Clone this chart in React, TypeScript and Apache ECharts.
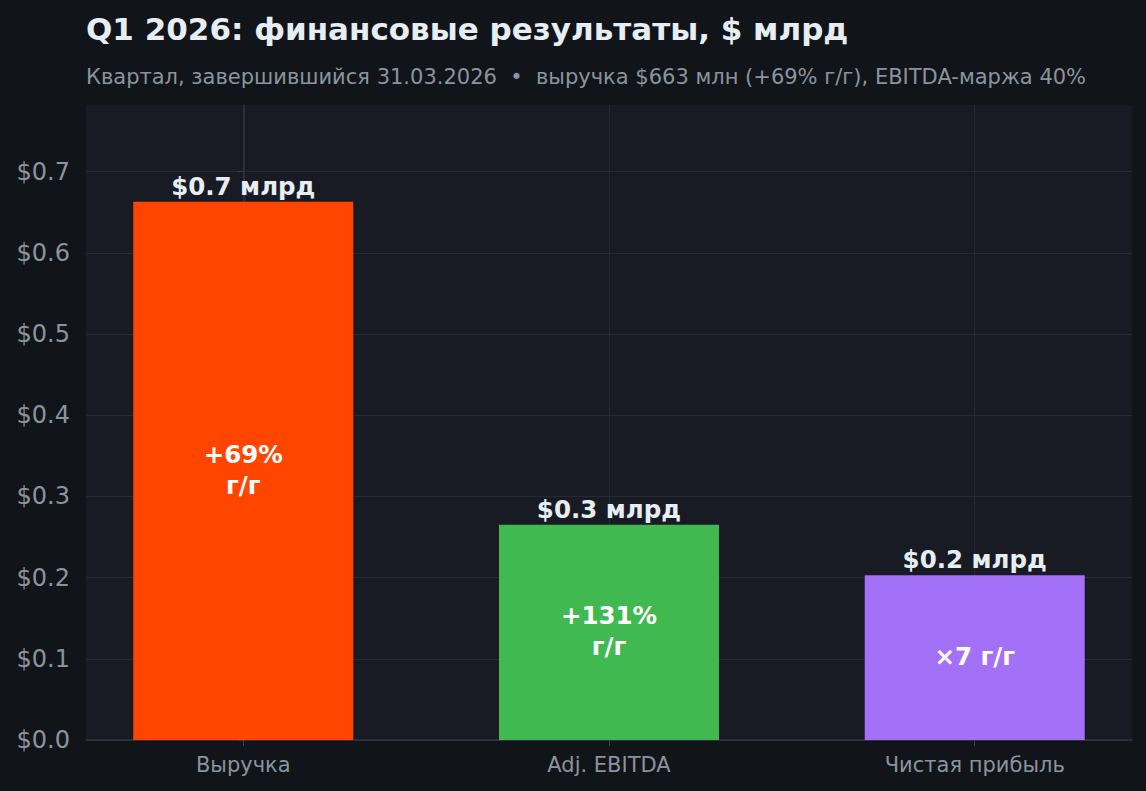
import React, { useEffect, useRef } from "react";
import * as echarts from "echarts";

// chart data
const categories = ["Выручка", "Adj. EBITDA", "Чистая прибыль"];
const values = [0.663, 0.265, 0.203]; // $ bn
const growthLabels = ["+69%\nг/г", "+131%\nг/г", "×7 г/г"];
const barColors = ["#ff4500", "#3fb950", "#a371f7"];
const yTicks = [0, 0.1, 0.2, 0.3, 0.4, 0.5, 0.6, 0.7];

const FONT = "DejaVu Sans";
const GRID_COLOR = "#242932";

const App: React.FC = () => {
  const chartRef = useRef<HTMLDivElement>(null);

  useEffect(() => {
    if (!chartRef.current) return;
    const chart = echarts.init(chartRef.current, undefined, { renderer: "svg" });

    const xIdx = categories.map((_, i) => i);

    const option: echarts.EChartsOption = {
      animation: false,
      backgroundColor: "#111419",
      textStyle: { fontFamily: FONT },
      title: [
        {
          text: "Q1 2026: финансовые результаты, $ млрд",
          left: 81,
          top: 8,
          textStyle: { color: "#e6edf3", fontSize: 31, fontWeight: "bold", fontFamily: FONT },
        },
        {
          text: "Квартал, завершившийся 31.03.2026  •  выручка $663 млн (+69% г/г), EBITDA-маржа 40%",
          left: 81,
          top: 61,
          textStyle: { color: "#8b949e", fontSize: 21, fontWeight: "normal", fontFamily: FONT },
        },
      ],
      grid: {
        left: 86,
        right: 14,
        top: 105,
        bottom: 51,
        show: true,
        backgroundColor: "#181b23",
        borderWidth: 0,
      },
      xAxis: {
        type: "value",
        min: -0.43,
        max: 2.43,
        axisLine: { show: true, lineStyle: { color: "#30353e", width: 1.5 } },
        axisTick: {
          show: true,
          customValues: xIdx,
          length: 6,
          lineStyle: { color: "#3a3f48" },
        },
        axisLabel: {
          customValues: xIdx,
          formatter: (v: number) => categories[Math.round(v)] ?? "",
          color: "#8b949e",
          fontSize: 21,
          fontFamily: FONT,
          margin: 14,
        },
        splitLine: { show: true, lineStyle: { color: GRID_COLOR, width: 1 } },
      },
      yAxis: {
        type: "value",
        min: 0,
        max: 0.782,
        axisLine: { show: true, lineStyle: { color: "#30353e", width: 1.5 } },
        axisTick: {
          show: true,
          customValues: yTicks,
          length: 6,
          lineStyle: { color: "#3a3f48" },
        },
        axisLabel: {
          customValues: yTicks,
          formatter: (v: number) => "$" + v.toFixed(1),
          color: "#8b949e",
          fontSize: 24,
          fontFamily: FONT,
          margin: 16,
        },
        splitLine: { show: true, lineStyle: { color: GRID_COLOR, width: 1 } },
      },
      series: [
        {
          type: "bar",
          barWidth: 220,
          z: 2,
          data: values.map((v, i) => ({
            value: [i, v],
            itemStyle: { color: barColors[i] },
          })),
          label: {
            show: true,
            position: "top",
            distance: 3,
            formatter: (p: any) => "$" + p.value[1].toFixed(1) + " млрд",
            color: "#e6edf3",
            fontSize: 24.5,
            fontWeight: "bold",
            fontFamily: FONT,
          },
        },
        {
          type: "bar",
          barWidth: 220,
          barGap: "-100%",
          z: 3,
          silent: true,
          data: values.map((v, i) => [i, v]),
          itemStyle: { color: "rgba(0,0,0,0)" },
          label: {
            show: true,
            position: "inside",
            offset: [0, -1],
            formatter: (p: any) => growthLabels[p.dataIndex],
            color: "#ffffff",
            fontSize: 24.5,
            fontWeight: "bold",
            lineHeight: 31,
            fontFamily: FONT,
          },
        },
      ],
    };

    chart.setOption(option);
    return () => {
      chart.dispose();
    };
  }, []);

  return (
    <div
      ref={chartRef}
      style={{ position: "fixed", left: 0, top: 0, width: "1146px", height: "791px" }}
    />
  );
};

export default App;
